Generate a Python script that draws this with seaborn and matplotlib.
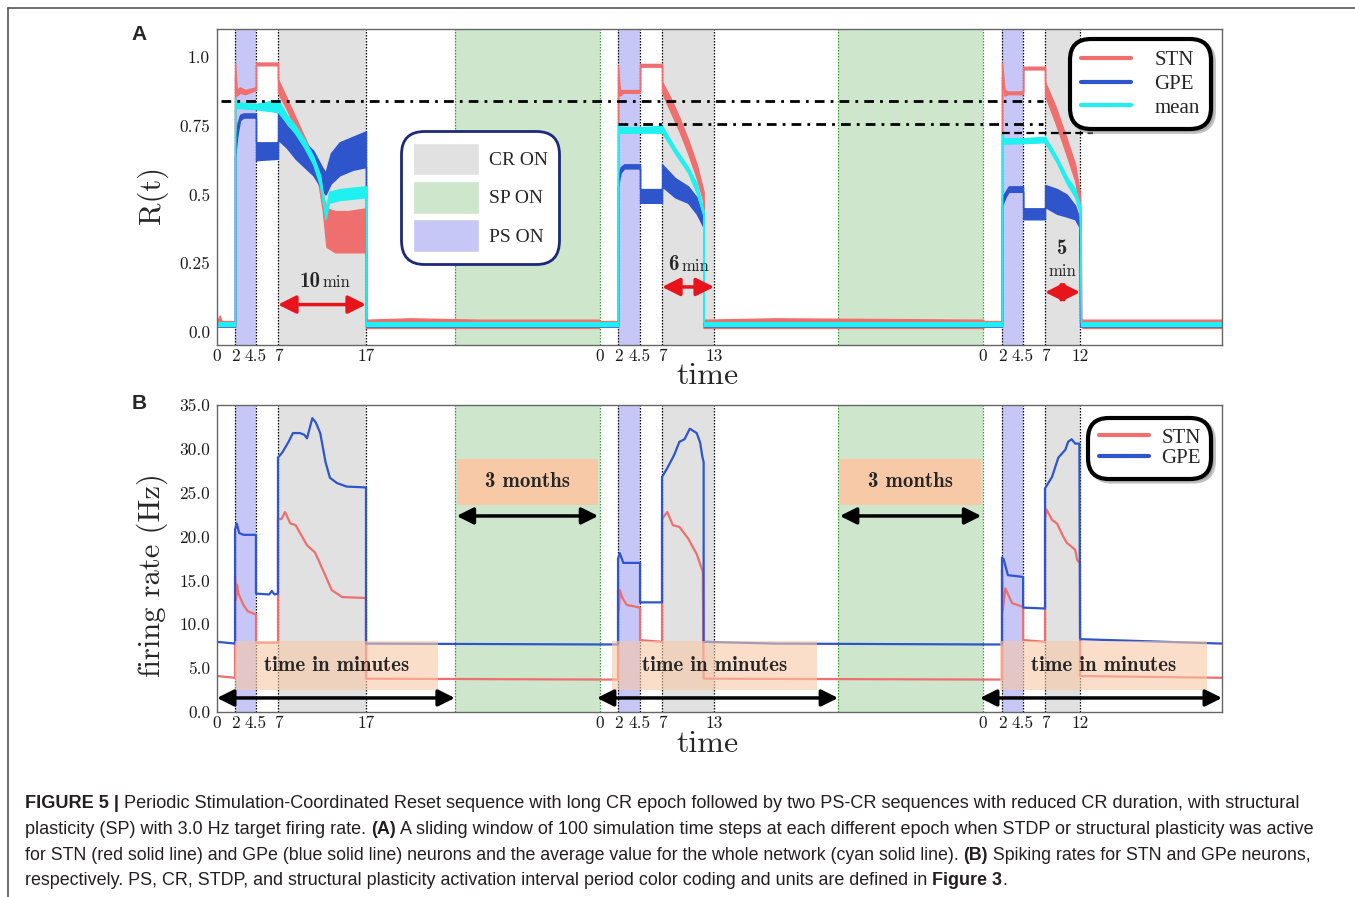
import numpy as np
import pandas as pd
import matplotlib
import matplotlib.pyplot as plt
import seaborn as sns
from matplotlib.lines import Line2D
from matplotlib.patches import Patch, Rectangle

# ---------------- data ----------------
# local time (min) of the tick marks in each of the three sequences and where
# they sit on the (not-to-scale) time axis
TICK_LOCAL = [[0, 2, 4.5, 7, 17], [0, 2, 4.5, 7, 13], [0, 2, 4.5, 7, 12]]
TICK_POS = [[0, 2.05, 4.43, 6.93, 16.93],
            [43.52, 45.57, 48.07, 50.57, 56.48],
            [87.05, 89.2, 91.6, 94.09, 98.07]]
TICK_LABELS = [["0", "2", "4.5", "7", "17"], ["0", "2", "4.5", "7", "13"], ["0", "2", "4.5", "7", "12"]]
X_MAX = 114.2
SP_START = 27.1          # local minute where SP starts (seq 1 and 2)
PS_ON = (2, 4.5)
CR_START = 7

# panel A  R(t) envelopes (low / high of the noisy trace)
A_STN_T = [[0, 0.3, 0.5, 2.0, 2.0, 2.2, 2.6, 3.2, 4.5, 4.5, 7.0, 7.0, 8.0, 9.0, 10.0, 11.0, 11.6, 12.1, 12.5, 13.5, 15.0, 17.0, 17.0, 22.0, 30.0, 43.5],
           [0, 2.0, 2.0, 2.2, 2.6, 4.5, 4.5, 7.0, 7.0, 8.0, 9.0, 10.0, 11.0, 11.8, 11.8, 20.0, 43.6],
           [0, 2.0, 2.0, 2.3, 2.7, 4.5, 4.5, 7.0, 7.0, 8.5, 10.0, 11.3, 12.0, 12.1, 12.15, 12.3, 28.1]]
A_STN_LO = [[0.02, 0.02, 0.02, 0.02, 0.93, 0.86, 0.87, 0.865, 0.88, 0.97, 0.97, 0.87, 0.81, 0.74, 0.67, 0.60, 0.54, 0.44, 0.31, 0.29, 0.29, 0.29, 0.015, 0.015, 0.015, 0.015],
            [0.02, 0.02, 0.93, 0.86, 0.87, 0.87, 0.965, 0.965, 0.87, 0.80, 0.73, 0.65, 0.56, 0.47, 0.015, 0.015, 0.015],
            [0.02, 0.02, 0.93, 0.86, 0.865, 0.865, 0.955, 0.955, 0.86, 0.76, 0.65, 0.55, 0.45, 0.02, 0.02, 0.015, 0.015]]
A_STN_HI = [[0.04, 0.06, 0.04, 0.04, 0.98, 0.88, 0.89, 0.88, 0.89, 0.98, 0.98, 0.92, 0.85, 0.78, 0.71, 0.64, 0.58, 0.50, 0.45, 0.44, 0.44, 0.45, 0.045, 0.05, 0.045, 0.045],
            [0.04, 0.04, 0.97, 0.88, 0.88, 0.88, 0.975, 0.975, 0.91, 0.85, 0.78, 0.70, 0.61, 0.51, 0.045, 0.05, 0.045],
            [0.04, 0.04, 0.98, 0.88, 0.875, 0.875, 0.965, 0.965, 0.91, 0.82, 0.71, 0.61, 0.50, 0.30, 0.05, 0.045, 0.045]]

A_GPE_T = [[0, 2.0, 2.0, 2.3, 2.6, 3.0, 4.5, 4.5, 7.0, 7.0, 8.0, 9.0, 10.0, 11.0, 12.0, 12.4, 13.0, 14.0, 15.5, 17.0, 17.0, 43.5],
           [0, 2.0, 2.0, 2.3, 2.7, 4.5, 4.5, 7.0, 7.0, 8.5, 10.0, 11.0, 11.8, 11.8, 43.6],
           [0, 2.0, 2.0, 2.4, 2.8, 4.5, 4.5, 7.0, 7.0, 8.7, 10.1, 11.3, 11.95, 12.0, 28.1]]
A_GPE_LO = [[0.02, 0.02, 0.64, 0.72, 0.77, 0.78, 0.78, 0.625, 0.63, 0.70, 0.67, 0.63, 0.60, 0.57, 0.52, 0.50, 0.54, 0.57, 0.59, 0.60, 0.02, 0.02],
            [0.02, 0.02, 0.53, 0.58, 0.595, 0.595, 0.47, 0.47, 0.53, 0.49, 0.47, 0.43, 0.38, 0.02, 0.02],
            [0.02, 0.02, 0.46, 0.49, 0.51, 0.51, 0.41, 0.41, 0.455, 0.43, 0.42, 0.41, 0.38, 0.02, 0.02]]
A_GPE_HI = [[0.035, 0.035, 0.68, 0.76, 0.79, 0.795, 0.795, 0.69, 0.69, 0.80, 0.75, 0.72, 0.69, 0.66, 0.60, 0.58, 0.65, 0.69, 0.71, 0.73, 0.035, 0.035],
            [0.035, 0.035, 0.56, 0.60, 0.61, 0.61, 0.52, 0.52, 0.61, 0.56, 0.53, 0.49, 0.41, 0.035, 0.035],
            [0.035, 0.035, 0.49, 0.51, 0.53, 0.53, 0.45, 0.45, 0.535, 0.52, 0.50, 0.46, 0.41, 0.035, 0.035]]

A_MEAN_T = [[0, 2.0, 2.0, 2.3, 4.5, 7.0, 8.0, 9.0, 10.0, 11.0, 11.8, 12.4, 12.8, 14.0, 17.0, 17.0, 43.5],
            [0, 2.0, 2.0, 2.2, 4.5, 7.0, 8.5, 10.0, 11.0, 11.8, 11.8, 43.6],
            [0, 2.0, 2.0, 2.2, 4.5, 7.0, 8.7, 10.1, 11.3, 11.9, 12.05, 12.1, 28.1]]
A_MEAN_LO = [[0.022, 0.022, 0.81, 0.815, 0.81, 0.80, 0.76, 0.72, 0.67, 0.61, 0.53, 0.41, 0.47, 0.48, 0.49, 0.022, 0.022],
             [0.022, 0.022, 0.72, 0.725, 0.725, 0.725, 0.65, 0.58, 0.505, 0.42, 0.022, 0.022],
             [0.022, 0.022, 0.69, 0.685, 0.687, 0.69, 0.615, 0.54, 0.49, 0.44, 0.30, 0.022, 0.022]]
A_MEAN_HI = [[0.036, 0.036, 0.85, 0.835, 0.83, 0.845, 0.79, 0.75, 0.70, 0.64, 0.57, 0.44, 0.51, 0.52, 0.53, 0.036, 0.036],
             [0.036, 0.036, 0.76, 0.745, 0.745, 0.75, 0.67, 0.60, 0.54, 0.44, 0.036, 0.036],
             [0.036, 0.036, 0.72, 0.705, 0.705, 0.71, 0.636, 0.565, 0.52, 0.47, 0.45, 0.036, 0.036]]

# reference levels in panel A: (value, start seq, start min, end seq, end min)
A_LEVELS = [0.84, 0.755]
A_LEVEL_FROM = [(0, 0.4), (1, 2.0)]
A_LEVEL_TO = [(2, 6.8), (2, 6.8)]
A_SHORT_LEVEL = 0.724
A_SHORT_SPAN = (2.0, 13.5)   # in sequence 3

# panel B firing rates (Hz)
B_GPE_T = [[0, 2.0, 2.0, 2.2, 2.5, 3.0, 4.5, 4.5, 6.0, 6.3, 6.6, 7.0, 7.0, 7.5, 8.2, 8.7, 9.5, 10.0, 10.3, 10.9, 11.3, 11.8, 12.4, 12.9, 13.7, 14.8, 17.0, 17.0, 43.5],
           [0, 2.0, 2.0, 2.2, 2.6, 4.5, 4.5, 7.0, 7.0, 7.6, 8.4, 9.0, 9.6, 10.2, 11.0, 11.4, 11.65, 11.8, 11.8, 20.0, 43.6],
           [0, 2.0, 2.0, 2.2, 2.7, 4.5, 4.5, 7.0, 7.0, 8.0, 8.9, 9.9, 10.3, 10.8, 11.3, 11.9, 12.0, 12.1, 28.1]]
B_GPE = [[8.0, 7.8, 20.8, 21.5, 20.4, 20.2, 20.2, 13.5, 13.4, 13.8, 13.4, 13.5, 29.0, 29.6, 30.8, 31.8, 31.8, 31.6, 31.2, 33.5, 33.0, 31.8, 28.5, 26.7, 26.1, 25.7, 25.6, 7.8, 7.7],
         [7.7, 7.7, 17.5, 18.1, 17.0, 17.0, 12.5, 12.5, 26.8, 27.8, 29.3, 30.8, 31.1, 32.3, 31.8, 30.7, 29.1, 28.5, 8.0, 7.8, 7.7],
         [7.7, 7.7, 17.6, 17.4, 15.6, 15.4, 11.9, 11.8, 25.5, 26.8, 29.0, 29.9, 30.8, 31.1, 30.6, 30.6, 8.4, 8.3, 7.8]]
B_STN_T = [[0, 2.0, 2.0, 2.1, 2.25, 2.4, 3.0, 3.5, 4.5, 4.5, 7.0, 7.0, 7.4, 7.8, 8.4, 9.0, 10.3, 11.2, 12.1, 13.1, 14.3, 17.0, 17.0, 43.5],
           [0, 2.0, 2.0, 2.1, 2.2, 2.5, 3.0, 4.5, 4.5, 7.0, 7.0, 7.6, 8.25, 9.0, 10.0, 11.0, 11.7, 11.8, 43.6],
           [0, 2.0, 2.0, 2.1, 2.4, 3.2, 4.5, 4.5, 7.0, 7.0, 7.2, 8.0, 8.7, 9.6, 10.1, 11.3, 11.6, 12.0, 12.0, 28.1]]
B_STN = [[4.1, 3.9, 15.5, 12.8, 14.5, 13.5, 12.2, 11.5, 11.1, 7.9, 7.9, 22.0, 22.0, 22.8, 21.5, 21.3, 19.0, 18.2, 16.2, 13.9, 13.1, 13.0, 3.8, 3.7],
         [3.7, 3.7, 13.9, 11.6, 13.9, 13.0, 12.2, 11.9, 8.2, 8.0, 22.0, 22.8, 21.3, 21.1, 19.8, 18.0, 16.0, 3.8, 3.7],
         [3.7, 3.7, 16.2, 11.6, 14.1, 12.4, 12.0, 8.2, 8.0, 22.0, 23.1, 21.9, 21.5, 20.0, 19.3, 18.5, 17.3, 17.0, 4.1, 3.9]]

# panel B annotation boxes (values in Hz, times in local minutes)
MONTH_BOX = (23.6, 28.85)
MONTH_ARROW_Y = 22.35
TIME_BOX = (2.5, 8.1)
TIME_BOX_T = [(2.0, 25.2), (1.3, 24.7), (1.8, 26.4)]
TIME_ARROW_Y = 1.6
CR_LABELS = ["10", "6", "5"]

CAPTION = [
    [("FIGURE 5 |", True), (" Periodic Stimulation-Coordinated Reset sequence with long CR epoch followed by two PS-CR sequences with reduced CR duration, with structural", False)],
    [("plasticity (SP) with 3.0 Hz target firing rate. ", False), ("(A)", True), (" A sliding window of 100 simulation time steps at each different epoch when STDP or structural plasticity was active", False)],
    [("for STN (red solid line) and GPe (blue solid line) neurons and the average value for the whole network (cyan solid line). ", False), ("(B)", True), (" Spiking rates for STN and GPe neurons,", False)],
    [("respectively. PS, CR, STDP, and structural plasticity activation interval period color coding and units are defined in ", False), ("Figure 3", True), (".", False)],
]
CAPTION_Y = [803, 829, 855, 880]
CAPTION_END = [1308, 1319, 1316, 1010]

# ---------------- style ----------------
STN_C = "#ef6f6f"
GPE_C = "#2f55cc"
MEAN_C = "#1ff0f0"
PS_C = "#c6c6f7"
CR_C = "#e1e1e1"
SP_C = "#cde6cc"
GREEN_LINE = "#3a9a3a"
PEACH = "#f8c9a6"
CM = "cmr10"
CMB = "cmb10"
SERIF = ["Liberation Serif", "DejaVu Serif"]

sns.set_theme(style="white")
plt.rcParams["axes.unicode_minus"] = False

W, H = 1355, 897
fig = plt.figure(figsize=(W / 100, H / 100), dpi=100)


def to_axis(seg, t):
    t = np.atleast_1d(np.asarray(t, dtype=float))
    lt, pos = TICK_LOCAL[seg], TICK_POS[seg]
    u = np.interp(t, lt, pos)
    late = t > lt[-1]
    u[late] = pos[-1] + (t[late] - lt[-1])
    return u


def seg_start(seg):
    return TICK_POS[seg][0]


def px_axes(left, top, right, bottom):
    return [left / W, 1 - bottom / H, (right - left) / W, (bottom - top) / H]


axA = fig.add_axes(px_axes(217, 29, 1222, 345))
axB = fig.add_axes(px_axes(217, 405, 1222, 712))


def background(ax):
    for s in range(3):
        ax.axvspan(*to_axis(s, PS_ON), color=PS_C, lw=0, zorder=0)
        ax.axvspan(to_axis(s, CR_START)[0], TICK_POS[s][-1], color=CR_C, lw=0, zorder=0)
        for t in [2, 4.5, 7]:
            ax.axvline(to_axis(s, t)[0], color="black", lw=0.9, ls=(0, (1.2, 1.2)), zorder=1)
        ax.axvline(TICK_POS[s][-1], color="black", lw=0.9, ls=(0, (1.2, 1.2)), zorder=1)
        if s < 2:
            sp0 = to_axis(s, SP_START)[0]
            ax.axvspan(sp0, seg_start(s + 1), color=SP_C, lw=0, zorder=0)
            ax.axvline(sp0, color=GREEN_LINE, lw=0.9, ls=(0, (1.2, 1.2)), zorder=1)
            ax.axvline(seg_start(s + 1), color=GREEN_LINE, lw=0.9, ls=(0, (1.2, 1.2)), zorder=1)
    ticks = sum(TICK_POS, [])
    labels = sum(TICK_LABELS, [])
    ax.set_xticks(ticks)
    ax.set_xticklabels(labels, family=CM, fontsize=12.5)
    ax.set_xlim(0, X_MAX)
    ax.tick_params(axis="both", length=3, width=0.8, color="#555555", pad=2, labelcolor="#1a1a1a")
    ax.tick_params(axis="x", length=0, pad=3)
    for sp in ax.spines.values():
        sp.set_color("#666666")
        sp.set_linewidth(1.0)
        sp.set_zorder(6)


background(axA)
background(axB)

# ---------------- panel A ----------------
for T, LO, HI, col in [(A_STN_T, A_STN_LO, A_STN_HI, STN_C),
                       (A_GPE_T, A_GPE_LO, A_GPE_HI, GPE_C),
                       (A_MEAN_T, A_MEAN_LO, A_MEAN_HI, MEAN_C)]:
    for s in range(3):
        u = to_axis(s, T[s])
        axA.fill_between(u, LO[s], HI[s], color=col, lw=1.0, edgecolor=col, zorder=3)

for lev, (s0, t0), (s1, t1) in zip(A_LEVELS, A_LEVEL_FROM, A_LEVEL_TO):
    axA.plot([to_axis(s0, t0)[0], to_axis(s1, t1)[0]], [lev, lev], color="black",
             lw=2, ls=(0, (3.5, 2.2, 1, 2.2)), zorder=4)
axA.plot(to_axis(2, A_SHORT_SPAN), [A_SHORT_LEVEL] * 2, color="black", lw=1.6,
         ls=(0, (3.5, 2)), zorder=4)

axA.set_ylim(-0.047, 1.102)
axA.set_yticks([0, 0.25, 0.5, 0.75, 1.0])
axA.set_yticklabels(["0.0", "0.25", "0.5", "0.75", "1.0"], family=CM, fontsize=12.5)

# CR duration arrows: (number offset, "min" offset) from the arrow centre, in axis units
LABEL_OFFSETS = [(-1.4, 1.7), (-1.7, 0.9), (0.0, 0.0)]
for s, lab in enumerate(CR_LABELS):
    u0, u1 = to_axis(s, CR_START)[0], TICK_POS[s][-1]
    ya = [0.10, 0.164, 0.145][s]
    axA.annotate("", xy=(u0, ya), xytext=(u1, ya),
                 arrowprops=dict(arrowstyle="<|-|>", color="#e8141c", lw=2.5,
                                 mutation_scale=27, shrinkA=0, shrinkB=0), zorder=5)
    um = (u0 + u1) / 2
    dn, dm = LABEL_OFFSETS[s]
    if s < 2:
        yt = [0.185, 0.244][s]
        axA.text(um + dn, yt, lab, family=CMB, fontsize=15, ha="center", va="center", zorder=5)
        axA.text(um + dm, yt - 0.005, "min", family=CM, fontsize=12, ha="center", va="center", zorder=5)
    else:
        axA.text(um, 0.305, lab, family=CMB, fontsize=15, ha="center", va="center", zorder=5)
        axA.text(um, 0.222, "min", family=CM, fontsize=12, ha="center", va="center", zorder=5)

axA.text(-0.0647, 0.475, "R(t)", transform=axA.transAxes, rotation=90, family=CM,
         fontsize=22, ha="center", va="center")
axA.text(0.4876, -0.098, "time", transform=axA.transAxes, family=CM, fontsize=23,
         ha="center", va="center")

patch_leg = axA.legend(
    handles=[Patch(facecolor=CR_C), Patch(facecolor=SP_C), Patch(facecolor=PS_C)],
    labels=["CR ON", "SP ON", "PS ON"], loc="upper left", bbox_to_anchor=(0.187, 0.665),
    borderaxespad=0, prop={"family": SERIF, "size": 14}, handlelength=3.4, handleheight=2.2,
    labelspacing=0.3, handletextpad=0.5, borderpad=0.4, frameon=True, fancybox=True,
    framealpha=1)
patch_leg.get_frame().set_edgecolor("#1c2a78")
patch_leg.get_frame().set_linewidth(2)
patch_leg.get_frame().set_boxstyle("round", pad=0.2, rounding_size=1.2)
patch_leg.set_zorder(7)
axA.add_artist(patch_leg)

line_leg = axA.legend(
    handles=[Line2D([], [], color=STN_C, lw=3), Line2D([], [], color=GPE_C, lw=3),
             Line2D([], [], color=MEAN_C, lw=3)],
    labels=["STN", "GPE", "mean"], loc="upper right", bbox_to_anchor=(0.985, 0.955),
    borderaxespad=0, prop={"family": SERIF, "size": 15}, handlelength=2.4,
    labelspacing=0.2, handletextpad=1.1, borderpad=0.35, frameon=True, fancybox=True,
    framealpha=1, shadow={"color": "0.6", "alpha": 0.6})
line_leg.get_frame().set_edgecolor("black")
line_leg.get_frame().set_linewidth(3)
line_leg.get_frame().set_boxstyle("round", pad=0.2, rounding_size=1.0)
line_leg.set_zorder(7)

# ---------------- panel B ----------------
rows = []
for name, T, V in [("STN", B_STN_T, B_STN), ("GPE", B_GPE_T, B_GPE)]:
    for s in range(3):
        for u, v in zip(to_axis(s, T[s]), V[s]):
            rows.append({"x": u, "rate": v, "pop": name, "piece": f"{name}{s}"})
dfB = pd.DataFrame(rows)
sns.lineplot(data=dfB, x="x", y="rate", hue="pop", units="piece", estimator=None,
             sort=False, palette={"STN": STN_C, "GPE": GPE_C}, lw=1.6, legend=False,
             ax=axB, zorder=3)
axB.set_xlabel("")
axB.set_ylabel("")
axB.set_ylim(0, 35)
axB.set_yticks(np.arange(0, 36, 5))
axB.set_yticklabels([f"{v:.1f}" for v in np.arange(0, 36, 5)], family=CM, fontsize=12.5)

for s in range(2):
    sp0, sp1 = to_axis(s, SP_START)[0] + 0.2, seg_start(s + 1) - 0.2
    axB.add_patch(Rectangle((sp0, MONTH_BOX[0]), sp1 - sp0, MONTH_BOX[1] - MONTH_BOX[0],
                            facecolor=PEACH, lw=0, zorder=4))
    axB.text((sp0 + sp1) / 2, sum(MONTH_BOX) / 2, "3 months", family=CMB, fontsize=15,
             ha="center", va="center", zorder=5)
    axB.annotate("", xy=(sp0, MONTH_ARROW_Y), xytext=(sp1, MONTH_ARROW_Y),
                 arrowprops=dict(arrowstyle="<|-|>", color="black", lw=2.5,
                                 mutation_scale=25, shrinkA=0, shrinkB=0), zorder=5)

for s in range(3):
    b0, b1 = to_axis(s, TIME_BOX_T[s])
    axB.add_patch(Rectangle((b0, TIME_BOX[0]), b1 - b0, TIME_BOX[1] - TIME_BOX[0],
                            facecolor=PEACH, alpha=0.6, lw=0, zorder=4))
    axB.text((b0 + b1) / 2, sum(TIME_BOX) / 2, "time in minutes", family=CMB, fontsize=15,
             ha="center", va="center", zorder=5)
    a0 = max(seg_start(s) - 0.35, 0)
    a1 = to_axis(s, SP_START)[0] if s < 2 else X_MAX
    axB.annotate("", xy=(a0, TIME_ARROW_Y), xytext=(a1, TIME_ARROW_Y),
                 arrowprops=dict(arrowstyle="<|-|>", color="black", lw=2.5,
                                 mutation_scale=25, shrinkA=0, shrinkB=0), zorder=5,
                 annotation_clip=False)

axB.text(-0.0647, 0.446, "firing rate (Hz)", transform=axB.transAxes, rotation=90,
         family=CM, fontsize=22, ha="center", va="center")
axB.text(0.4876, -0.104, "time", transform=axB.transAxes, family=CM, fontsize=23,
         ha="center", va="center")

legB = axB.legend(
    handles=[Line2D([], [], color=STN_C, lw=3), Line2D([], [], color=GPE_C, lw=3)],
    labels=["STN", "GPE"], loc="upper right", bbox_to_anchor=(0.985, 0.945),
    borderaxespad=0, prop={"family": SERIF, "size": 15}, handlelength=2.4,
    labelspacing=0.05, handletextpad=0.6, borderpad=0.3, frameon=True, fancybox=True,
    framealpha=1, shadow={"color": "0.6", "alpha": 0.6})
legB.get_frame().set_edgecolor("black")
legB.get_frame().set_linewidth(3)
legB.get_frame().set_boxstyle("round", pad=0.2, rounding_size=1.0)
legB.set_zorder(7)

# panel letters and outer frame
fig.text(139 / W, 1 - 35 / H, "A", fontsize=15, fontweight="bold",
         family=["Liberation Sans", "DejaVu Sans"], ha="center", va="center")
fig.text(139 / W, 1 - 403 / H, "B", fontsize=15, fontweight="bold",
         family=["Liberation Sans", "DejaVu Sans"], ha="center", va="center")
fig.add_artist(Line2D([8 / W, 8 / W], [0, 1 - 8 / H], transform=fig.transFigure,
                      color="#555555", lw=1.2))
fig.add_artist(Line2D([8 / W, 1], [1 - 8 / H, 1 - 8 / H], transform=fig.transFigure,
                      color="#555555", lw=1.2))

# ---------------- caption ----------------
CAP_FONT = ["Liberation Sans Narrow", "Liberation Sans", "DejaVu Sans"]
renderer = fig.canvas.get_renderer()


def lay_line(y, runs, size):
    x = 25
    made = []
    for s, bold in runs:
        t = fig.text(x / W, 1 - y / H, s, fontsize=size, family=CAP_FONT,
                     fontweight="bold" if bold else "normal", ha="left", va="center",
                     color="#231f20")
        x += t.get_window_extent(renderer).width
        made.append(t)
    return x - 25, made


for y, runs, end in zip(CAPTION_Y, CAPTION, CAPTION_END):
    w, tmp = lay_line(y, runs, 12)
    for t in tmp:
        t.remove()
    lay_line(y, runs, 12 * (end - 25) / w)

fig.savefig("out.png", dpi=100)
